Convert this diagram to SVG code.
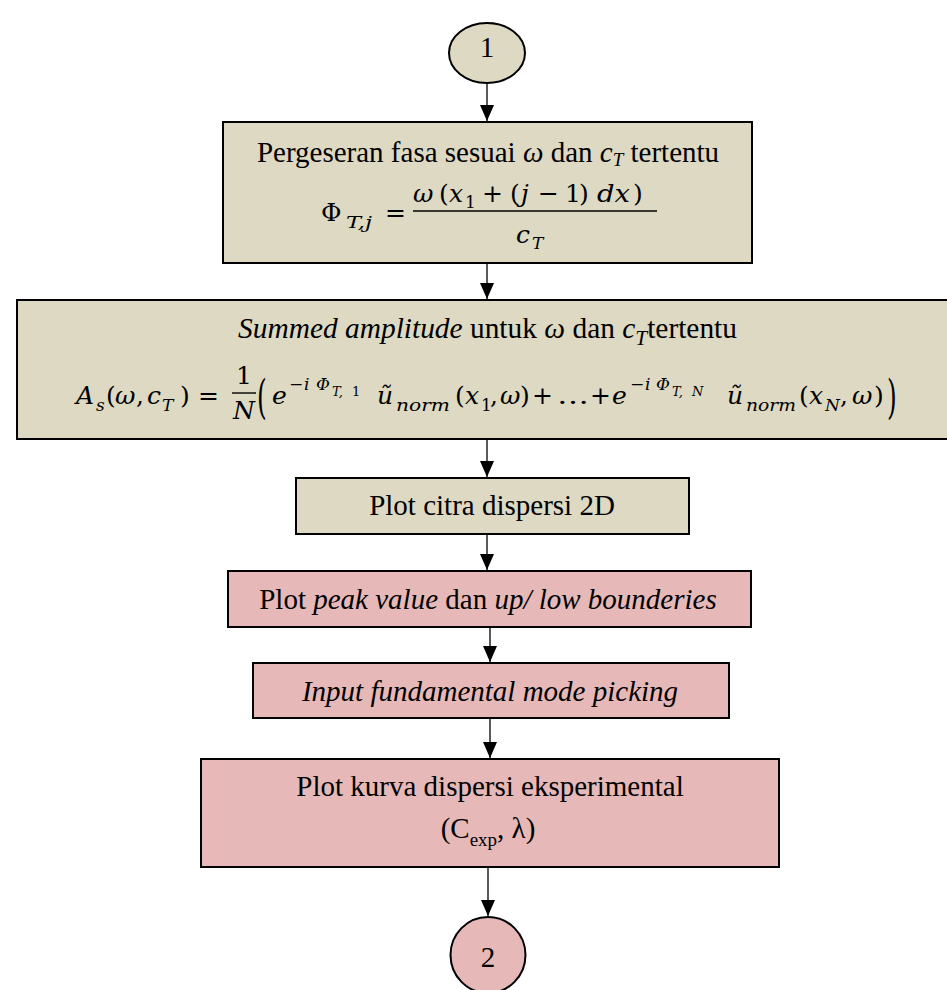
<svg xmlns="http://www.w3.org/2000/svg" width="947" height="990" viewBox="0 0 947 990">
  <style>
    .beige { fill: #ddd9c3; stroke: #000; stroke-width: 2; }
    .pink { fill: #e6b9b8; stroke: #000; stroke-width: 2; }
    .txt { font-family: "Liberation Serif", "Times New Roman", serif; font-size: 29px; fill: #000; }
    .it { font-style: italic; }
    .m { font-family: "DejaVu Serif", "Liberation Serif", serif; font-size: 25px; fill: #000; }
    .mi { font-family: "DejaVu Serif", "Liberation Serif", serif; font-size: 25px; font-style: italic; fill: #000; }
    .ms { font-size: 17px; }
    .mss { font-size: 13px; }
    .bar { stroke: #000; stroke-width: 1.4; }
    .conn { stroke: #000; stroke-width: 1.3; fill: none; marker-end: url(#head); }
  </style>
  <defs>
    <marker id="head" viewBox="0 0 16 14" refX="16" refY="7" markerWidth="16" markerHeight="14" markerUnits="userSpaceOnUse" orient="auto">
      <path d="M0,0 L16,7 L0,14 z" fill="#000"/>
    </marker>
  </defs>

  <rect width="947" height="990" fill="#fff"/>

  <!-- connectors -->
  <g id="connectors">
    <line class="conn" x1="487" y1="84" x2="487" y2="121"/>
    <line class="conn" x1="487" y1="264" x2="487" y2="299"/>
    <line class="conn" x1="487" y1="440" x2="487" y2="477"/>
    <line class="conn" x1="487" y1="535" x2="487" y2="570"/>
    <line class="conn" x1="490" y1="628" x2="490" y2="662"/>
    <line class="conn" x1="490" y1="719" x2="490" y2="758"/>
    <line class="conn" x1="488" y1="868" x2="488" y2="916"/>
  </g>

  <!-- start connector -->
  <g id="start">
    <ellipse class="beige" cx="487" cy="53" rx="38" ry="30"/>
    <text class="txt" x="487" y="57" text-anchor="middle">1</text>
  </g>

  <!-- phase shift -->
  <g id="phase-shift">
    <rect class="beige" x="223" y="122" width="529" height="141"/>
    <text class="txt" x="488" y="162" text-anchor="middle">Pergeseran fasa sesuai <tspan class="it">ω</tspan> dan <tspan class="it">c</tspan><tspan class="it" font-size="19" dy="4">T</tspan><tspan dy="-4"> tertentu</tspan></text>
    <!-- Φ_{T,j} = ω (x1 + (j − 1) dx) / c_T -->
    <text class="m" x="321" y="221" font-size="28">Φ</text>
    <text class="mi ms" x="346" y="228" textLength="26" lengthAdjust="spacingAndGlyphs">T,j</text>
    <text class="m" x="385" y="221">=</text>
    <text class="mi" x="413" y="202">ω</text>
    <text class="m" x="439" y="202">(</text>
    <text class="mi" x="449" y="202">x</text>
    <text class="m ms" x="465" y="208">1</text>
    <text class="m" x="482" y="202">+</text>
    <text class="m" x="510" y="202">(</text>
    <text class="mi" x="521" y="202">j</text>
    <text class="m" x="538" y="202">−</text>
    <text class="m" x="565" y="202">1</text>
    <text class="m" x="579" y="202">)</text>
    <text class="mi" x="597" y="202" textLength="33" lengthAdjust="spacingAndGlyphs">dx</text>
    <text class="m" x="633" y="202">)</text>
    <line class="bar" x1="413" y1="211" x2="657" y2="211"/>
    <text class="mi" x="516" y="243">c</text>
    <text class="mi ms" x="532" y="249">T</text>
  </g>

  <!-- summed amplitude -->
  <g id="summed-amplitude">
    <rect class="beige" x="17" y="300" width="945" height="139"/>
    <text class="txt" x="238" y="338" font-size="32" textLength="499" lengthAdjust="spacingAndGlyphs"><tspan class="it">Summed amplitude</tspan> untuk <tspan class="it">ω</tspan> dan <tspan class="it">c</tspan><tspan class="it" font-size="21" dy="7">T</tspan><tspan dy="-7">tertentu</tspan></text>
    <!-- A_s(ω, c_T) = 1/N ( e^{-iΦ_{T,1}} ũ_norm(x1, ω) + … + e^{-iΦ_{T,N}} ũ_norm(xN, ω) ) -->
    <text class="mi" x="76" y="404">A</text>
    <text class="mi ms" x="96" y="411">s</text>
    <text class="m" x="106" y="404">(</text>
    <text class="mi" x="115" y="404">ω</text>
    <text class="m" x="136" y="404">,</text>
    <text class="mi" x="147" y="404">c</text>
    <text class="mi ms" x="162" y="411">T</text>
    <text class="m" x="180" y="404">)</text>
    <text class="m" x="198" y="404">=</text>
    <text class="m" x="236" y="384">1</text>
    <line class="bar" x1="232" y1="393" x2="256" y2="393"/>
    <text class="mi" x="233" y="419">N</text>
    <text class="m" transform="translate(257,413) scale(1,1.9)" x="0" y="0" font-size="27">(</text>
    <text class="mi" x="272" y="404">e</text>
    <text class="m ms" x="289" y="390">−</text>
    <text class="mi ms" x="304" y="390">i</text>
    <text class="mi ms" x="316" y="390">Φ</text>
    <text class="mi mss" x="332" y="396">T,</text>
    <text class="m mss" x="352" y="396">1</text>
    <text class="mi" x="377" y="404">ũ</text>
    <text class="mi ms" x="396" y="411" textLength="54" lengthAdjust="spacingAndGlyphs">norm</text>
    <text class="m" x="455" y="404">(</text>
    <text class="mi" x="465" y="404">x</text>
    <text class="m ms" x="481" y="411">1</text>
    <text class="m" x="490" y="404">,</text>
    <text class="mi" x="500" y="404">ω</text>
    <text class="m" x="520" y="404">)</text>
    <text class="m" x="532" y="404">+</text>
    <text class="m" x="557" y="404" textLength="32" lengthAdjust="spacingAndGlyphs">…</text>
    <text class="m" x="590" y="404">+</text>
    <text class="mi" x="612" y="404">e</text>
    <text class="m ms" x="630" y="390">−</text>
    <text class="mi ms" x="645" y="390">i</text>
    <text class="mi ms" x="656" y="390">Φ</text>
    <text class="mi mss" x="672" y="396">T,</text>
    <text class="mi mss" x="692" y="396">N</text>
    <text class="mi" x="727" y="404">ũ</text>
    <text class="mi ms" x="746" y="411" textLength="50" lengthAdjust="spacingAndGlyphs">norm</text>
    <text class="m" x="799" y="404">(</text>
    <text class="mi" x="809" y="404">x</text>
    <text class="mi ms" x="825" y="411">N</text>
    <text class="m" x="840" y="404">,</text>
    <text class="mi" x="852" y="404">ω</text>
    <text class="m" x="874" y="404">)</text>
    <text class="m" transform="translate(887,413) scale(1,1.9)" x="0" y="0" font-size="27">)</text>
  </g>

  <!-- 2D dispersion image -->
  <g id="plot-image">
    <rect class="beige" x="296" y="478" width="393" height="56"/>
    <text class="txt" x="492" y="515" text-anchor="middle">Plot citra dispersi 2D</text>
  </g>

  <!-- peak value and bounds -->
  <g id="plot-peak">
    <rect class="pink" x="228" y="571" width="523" height="56"/>
    <text class="txt" x="488" y="609" text-anchor="middle">Plot <tspan class="it">peak value</tspan> dan <tspan class="it">up/ low bounderies</tspan></text>
  </g>

  <!-- mode picking -->
  <g id="mode-picking">
    <rect class="pink" x="253" y="663" width="476" height="55"/>
    <text class="txt it" x="490" y="701" text-anchor="middle">Input fundamental mode picking</text>
  </g>

  <!-- experimental curve -->
  <g id="plot-curve">
    <rect class="pink" x="201" y="759" width="578" height="108"/>
    <text class="txt" x="490" y="796" text-anchor="middle">Plot kurva dispersi eksperimental</text>
    <text class="txt" x="488" y="838" text-anchor="middle">(C<tspan font-size="19" dy="8">exp</tspan><tspan dy="-8">, λ)</tspan></text>
  </g>

  <!-- end connector -->
  <g id="end">
    <ellipse class="pink" cx="488" cy="955" rx="37.5" ry="38"/>
    <text class="txt" x="488" y="967" text-anchor="middle">2</text>
  </g>
</svg>
